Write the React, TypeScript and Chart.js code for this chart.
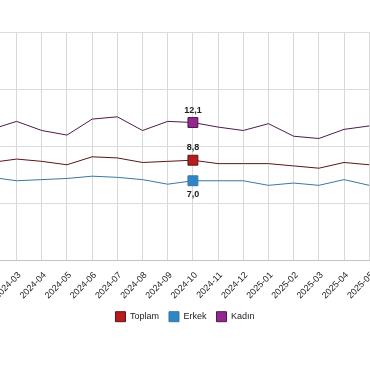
import React, { useEffect, useRef } from 'react';
import { Chart, registerables } from 'chart.js';

Chart.register(...registerables);

// ---- Data ----
const months: string[] = [
  '2023-12', '2024-01', '2024-02', '2024-03', '2024-04', '2024-05', '2024-06',
  '2024-07', '2024-08', '2024-09', '2024-10', '2024-11', '2024-12', '2025-01',
  '2025-02', '2025-03', '2025-04', '2025-05', '2025-06', '2025-07', '2025-08', '2025-09',
];

const seriesNames: string[] = ['Toplam', 'Erkek', 'Kadın'];

const toplam: (number | null)[] = [
  null, null, 8.6, 8.9, 8.7, 8.4, 9.1, 9.0, 8.6, 8.7, 8.8, 8.5, 8.5, 8.5,
  8.3, 8.1, 8.6, 8.4, null, null, null, null,
];
const erkek: (number | null)[] = [
  null, null, 7.3, 7.0, 7.1, 7.2, 7.4, 7.3, 7.1, 6.7, 7.0, 7.0, 7.0, 6.6,
  6.8, 6.6, 7.1, 6.6, null, null, null, null,
];
const kadin: (number | null)[] = [
  null, null, 11.5, 12.2, 11.4, 11.0, 12.4, 12.6, 11.4, 12.2, 12.1, 11.7, 11.4, 12.0,
  10.9, 10.7, 11.5, 11.8, null, null, null, null,
];

const highlightMonth = '2024-10';
const yMin = 0;
const yMax = 20;
const yStep = 5;

// ---- Styles ----
const lineColors = ['#5a1616', '#3b78a0', '#4e1a4a'];
const fillColors = ['#b81c1c', '#2e86c8', '#92278f'];
const labelBelow = [false, true, false];

const CANVAS_W = 570;
const CANVAS_H = 380;
const CANVAS_LEFT = -100;
const Y_AXIS_W = 41.01;
const LEGEND_SHIFT = -8.6;

const baseFont = "'Liberation Sans', Arial, Helvetica, sans-serif";

const fmt = (v: number) => v.toFixed(1).replace('.', ',');

const valueLabelPlugin = {
  id: 'valueLabels',
  afterLayout(chart: any) {
    const lg = chart.legend;
    if (lg) {
      lg.top += LEGEND_SHIFT;
      lg.bottom += LEGEND_SHIFT;
    }
  },
  afterDatasetsDraw(chart: any) {
    const ctx = chart.ctx;
    const idx = months.indexOf(highlightMonth);
    chart.data.datasets.forEach((ds: any, i: number) => {
      const meta = chart.getDatasetMeta(i);
      const pt = meta.data[idx];
      const v = ds.data[idx];
      if (!pt || v == null) return;
      ctx.save();
      ctx.font = `bold 9px ${baseFont}`;
      ctx.fillStyle = '#222';
      ctx.textAlign = 'center';
      ctx.textBaseline = 'middle';
      ctx.fillText(fmt(v), pt.x, pt.y + (labelBelow[i] ? 14 : -12.5));
      ctx.restore();
    });
  },
};

export default function App() {
  const ref = useRef<HTMLCanvasElement | null>(null);

  useEffect(() => {
    if (!ref.current) return;
    const hi = months.indexOf(highlightMonth);
    const seriesData = [toplam, erkek, kadin];
    const chart = new Chart(ref.current, {
      type: 'line',
      data: {
        labels: months,
        datasets: seriesNames.map((name, i) => ({
          label: name,
          data: seriesData[i],
          borderColor: lineColors[i],
          backgroundColor: fillColors[i],
          borderWidth: 1,
          tension: 0,
          pointStyle: 'rect',
          pointRadius: (c: any) => (c.dataIndex === hi ? 7 : 0),
          pointHoverRadius: (c: any) => (c.dataIndex === hi ? 7 : 0),
          pointBackgroundColor: fillColors[i],
          pointBorderColor: lineColors[i],
          pointBorderWidth: 1,
        })),
      },
      options: {
        responsive: false,
        animation: false,
        devicePixelRatio: 1,
        layout: { padding: { top: 32.3, bottom: 39.7, left: 0, right: 0 } },
        plugins: {
          legend: {
            position: 'bottom',
            labels: {
              boxWidth: 10,
              boxHeight: 10,
              padding: 10,
              color: '#222',
              font: { size: 9, family: baseFont },
            },
          },
          tooltip: { enabled: false },
          title: { display: false },
        },
        scales: {
          x: {
            grid: { color: '#d9d9d9', drawTicks: false },
            border: { color: '#c4c4c4' },
            ticks: {
              autoSkip: false,
              maxRotation: 45,
              minRotation: 45,
              padding: 9.3,
              labelOffset: 3,
              color: '#222',
              font: { size: 9, family: baseFont },
            },
            afterFit: (s: any) => {
              s.paddingRight = 0;
            },
          },
          y: {
            min: yMin,
            max: yMax,
            ticks: {
              stepSize: yStep,
              color: '#222',
              font: { size: 9, family: baseFont },
            },
            grid: { color: '#dcdcdc', drawTicks: false },
            border: { display: false },
            afterFit: (s: any) => {
              s.width = Y_AXIS_W;
            },
          },
        },
      },
      plugins: [valueLabelPlugin],
    } as any);
    return () => chart.destroy();
  }, []);

  return (
    <div
      style={{
        position: 'fixed',
        left: 0,
        top: 0,
        width: 370,
        height: 380,
        overflow: 'hidden',
        background: '#fff',
      }}
    >
      <div style={{ position: 'absolute', left: CANVAS_LEFT, top: 0, width: CANVAS_W, height: CANVAS_H }}>
        <canvas ref={ref} width={CANVAS_W} height={CANVAS_H} style={{ display: 'block' }} />
      </div>
    </div>
  );
}
